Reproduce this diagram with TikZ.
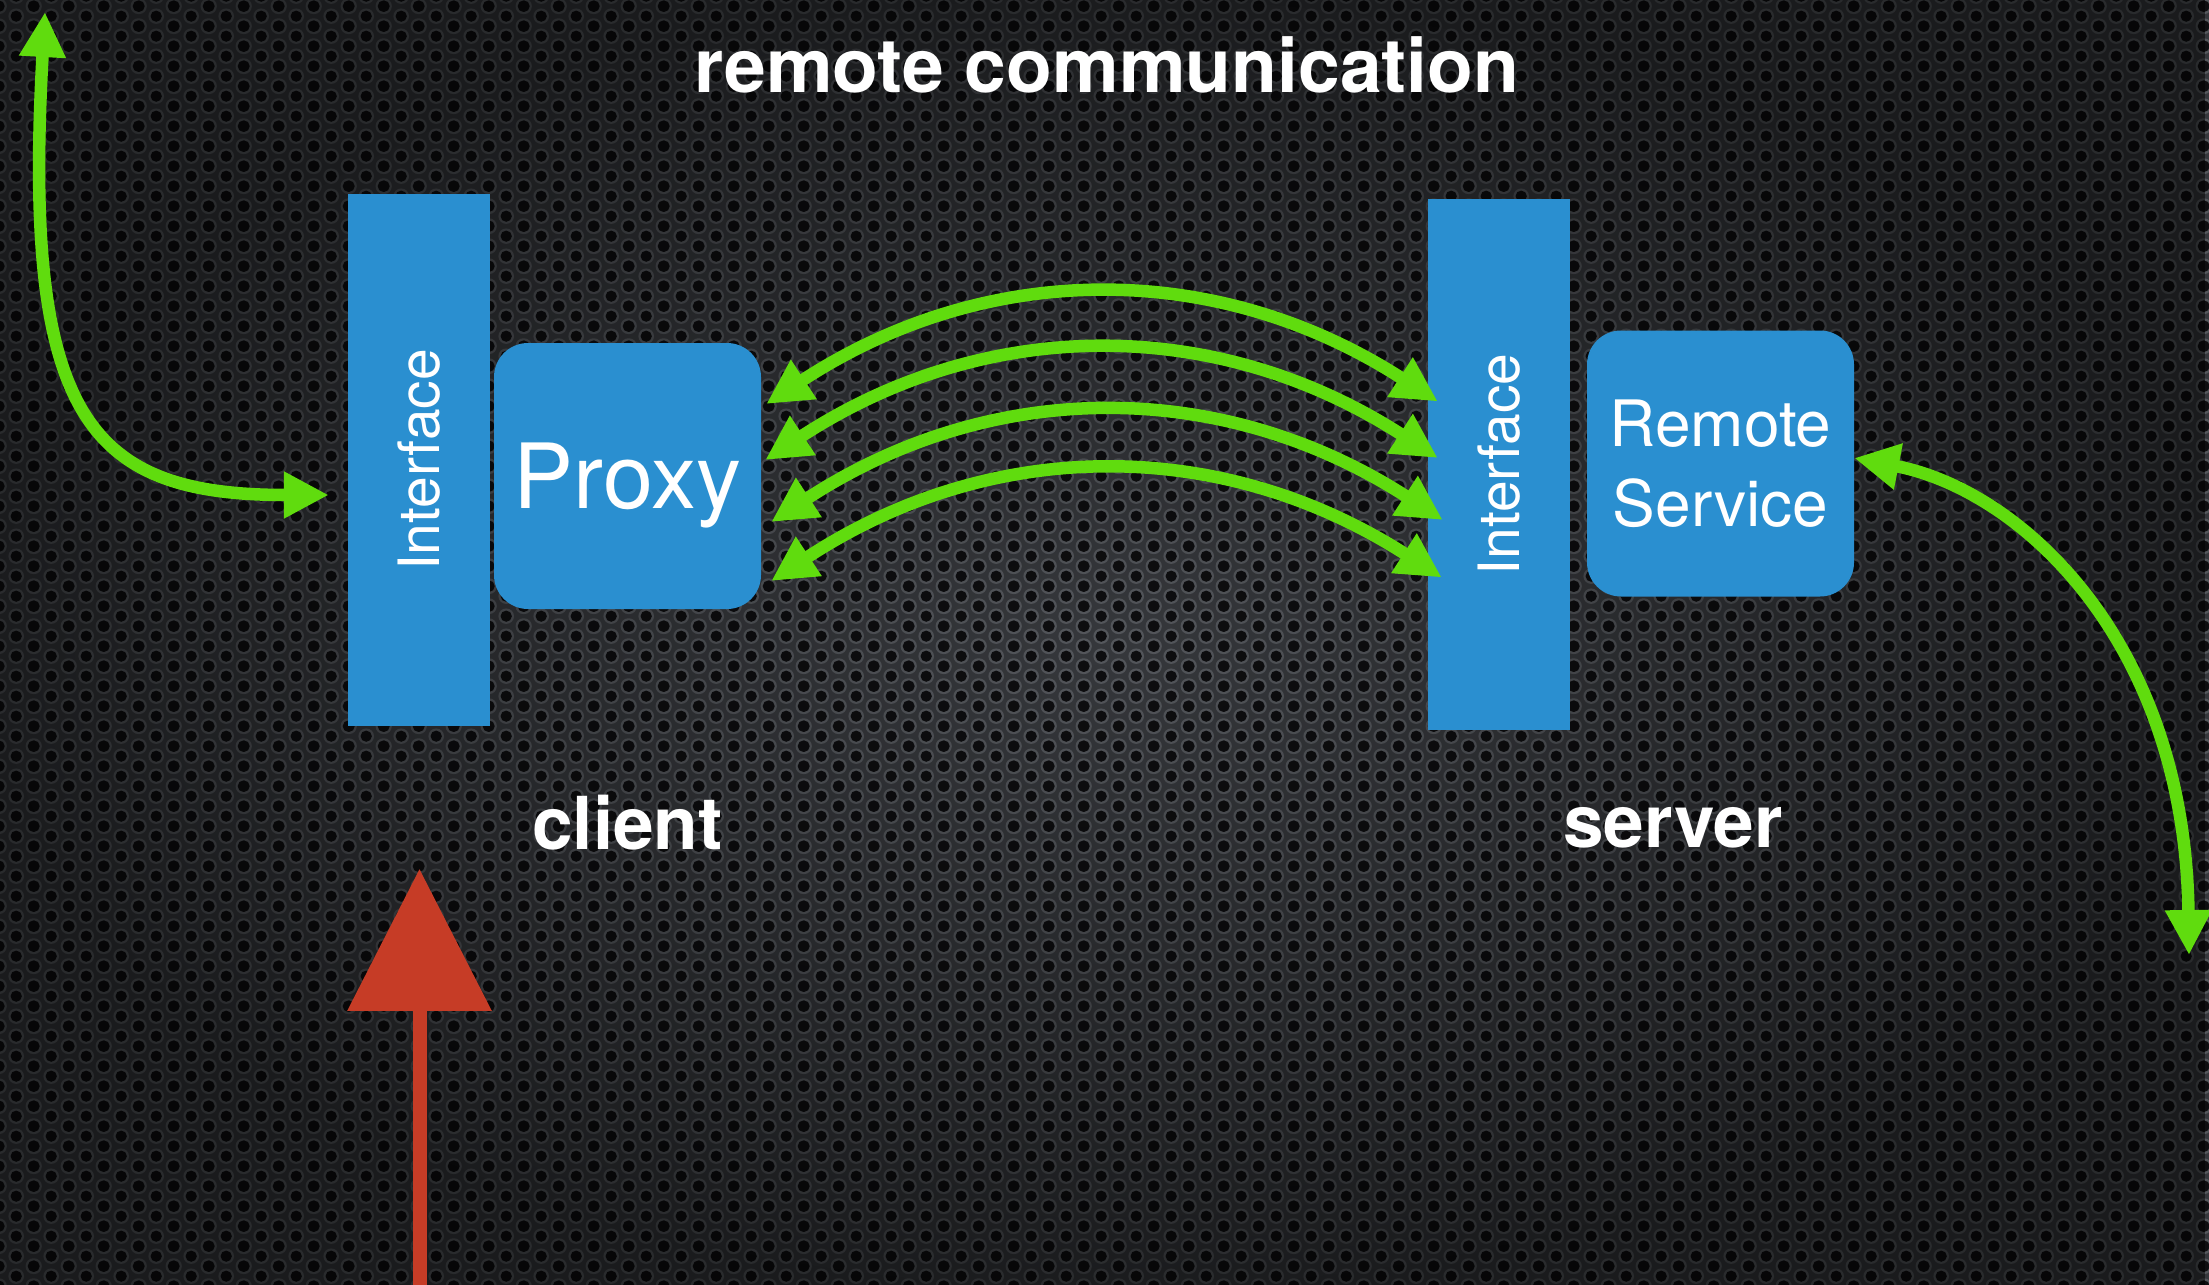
\documentclass[tikz,border=0pt]{standalone}
\usepackage{fontspec}
\setmainfont{TeX Gyre Heros}
\usetikzlibrary{arrows.meta,patterns.meta,fadings,calc}

\definecolor{kblue}{RGB}{42,143,208}
\definecolor{kgreen}{RGB}{96,220,14}
\definecolor{kred}{RGB}{198,60,38}
\definecolor{bgbase}{RGB}{54,56,60}
\definecolor{bgrim}{RGB}{84,87,92}
\definecolor{bghole}{RGB}{14,14,16}

\tikzdeclarepattern{
  name=rimdots, type=uncolored,
  bottom left={(0pt,0pt)}, top right={(35.2pt,20.3pt)},
  tile size={(35.2pt,20.3pt)},
  code={
    \fill (0pt,0pt) circle (8pt);
    \fill (35.2pt,0pt) circle (8pt);
    \fill (0pt,20.3pt) circle (8pt);
    \fill (35.2pt,20.3pt) circle (8pt);
    \fill (17.6pt,10.15pt) circle (8pt);
  }
}
\tikzdeclarepattern{
  name=holedots, type=uncolored,
  bottom left={(0pt,0pt)}, top right={(35.2pt,20.3pt)},
  tile size={(35.2pt,20.3pt)},
  code={
    \fill (0pt,0pt) circle (5.8pt);
    \fill (35.2pt,0pt) circle (5.8pt);
    \fill (0pt,20.3pt) circle (5.8pt);
    \fill (35.2pt,20.3pt) circle (5.8pt);
    \fill (17.6pt,10.15pt) circle (5.8pt);
  }
}
\tikzfading[name=vign, inner color=transparent!100, outer color=transparent!50]

\tikzset{
  ifbox/.style={rectangle, fill=kblue, draw=none, inner sep=0pt,
    minimum width=142pt, minimum height=532pt},
  iftext/.style={rotate=90, text=white, inner sep=0pt, text depth=0pt,
    font=\fontsize{57}{60}\selectfont},
  svcbox/.style={rectangle, rounded corners=34pt, fill=kblue, draw=none,
    inner sep=0pt, minimum width=267pt, minimum height=266pt,
    text=white, align=center, text depth=0pt},
  boldlabel/.style={text=white, anchor=base, inner sep=0pt,
    font=\bfseries\fontsize{73}{78}\selectfont},
  garrow/.style={draw=kgreen, line width=12.5pt, {Triangle[length=45pt,width=44pt]}-{Triangle[length=45pt,width=44pt]}},
  rarrow/.style={draw=kred, line width=14pt, -{Triangle[length=142pt,width=141pt]}}
}

\begin{document}
\begin{tikzpicture}[x=1pt,y=-1pt]
\useasboundingbox (0,0) rectangle (2209,1285);
% background
\fill[bgbase] (0,0) rectangle (2209,1285);
\fill[pattern=rimdots, pattern color=bgrim] (0,0) rectangle (2209,1285);
\fill[pattern=holedots, pattern color=bghole] (0,0) rectangle (2209,1285);
\fill[black, path fading=vign, fit fading=true] (0,0) rectangle (2209,1285);

% title
\node[boldlabel, font=\bfseries\fontsize{75}{80}\selectfont] (title) at (1107,92) {remote communication};

% client side
\node[ifbox] (if1) at (419,460) {};
\node[iftext] (if1t) at (if1.center) {Interface};
\node[svcbox, font=\fontsize{90}{96}\selectfont] (proxy) at (627.5,476) {Proxy};
\node[boldlabel] (client) at (627.5,849) {client};

% server side
\node[ifbox, minimum height=531pt] (if2) at (1499,464.5) {};
\node[iftext] (if2t) at (if2.center) {Interface};
\node[svcbox, font=\fontsize{64}{80}\selectfont] (svc) at (1720.5,463.5) {Remote\\Service};
\node[boldlabel] (server) at (1673,847) {server};

% remote calls
\coordinate (a1) at ($(proxy.east)+(5,-72)$);
\coordinate (a2) at ($(proxy.east)+(4,-16)$);
\coordinate (a3) at ($(proxy.east)+(10,46)$);
\coordinate (a4) at ($(proxy.east)+(10,105)$);
\coordinate (b1) at ($(if2.west)+(10,-63)$);
\coordinate (b2) at ($(if2.west)+(10,-6.5)$);
\coordinate (b3) at ($(if2.west)+(15,55.5)$);
\coordinate (b4) at ($(if2.west)+(14,113)$);
\draw[garrow] (a1) to[bend left=33] (b1);
\draw[garrow] (a2) to[bend left=33] (b2);
\draw[garrow] (a3) to[bend left=33] (b3);
\draw[garrow] (a4) to[bend left=33] (b4);

% outer green arrows
\coordinate (ltop) at (45,12);
\coordinate (lend) at ($(if1.west)+(-19,35)$);
\draw[garrow] (ltop) .. controls (22,420) and (90,495) .. (lend);

\coordinate (rstart) at ($(svc.east)+(0,-5.5)$);
\coordinate (rbot) at (2189,955);
\draw[garrow] (rstart) .. controls (2020,490) and (2185,640) .. (rbot);

% red arrow
\coordinate (redstart) at (419.5,1295);
\coordinate (redtip) at ($(if1.south)+(0.5,142.7)$);
\draw[rarrow] (redstart) -- (redtip);
\end{tikzpicture}
\end{document}
